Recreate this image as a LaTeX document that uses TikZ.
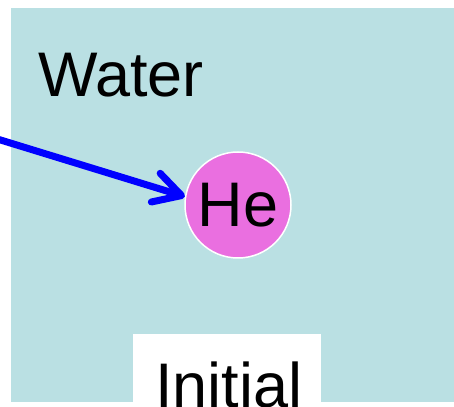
\documentclass[tikz,border=0pt]{standalone}
\usepackage{fontspec}
\setmainfont{Liberation Sans}
\usetikzlibrary{arrows.meta}
\definecolor{waterbg}{RGB}{186,224,227}
\definecolor{hemag}{RGB}{234,111,224}
\begin{document}
\begin{tikzpicture}[x=1pt,y=1pt,
  bigtext/.style={font=\fontsize{63}{63}\selectfont, inner sep=0pt, text=black},
  atom/.style={circle, fill=hemag, draw=white, line width=1.5pt, minimum size=106pt, inner sep=0pt, font=\fontsize{63}{63}\selectfont},
  flow/.style={draw=blue, line width=7pt, line cap=round, -{Straight Barb[length=27pt,width=30pt,round]}}]
\useasboundingbox (0,0) rectangle (454,406);
\fill[white] (0,0) rectangle (454,406);
\fill[waterbg] (11,4) rectangle (454,398);
\fill[white] (133,0) rectangle (321,72);
\node[bigtext, anchor=base west] (water) at (38,309) {Water};
\node[bigtext, anchor=base west] (initial) at (155,-1) {Initial};
\node[atom] (he) at (238,201) {He};
\coordinate (src) at (-6,268);
\draw[flow] (src) -- (he.171);
\end{tikzpicture}
\end{document}
